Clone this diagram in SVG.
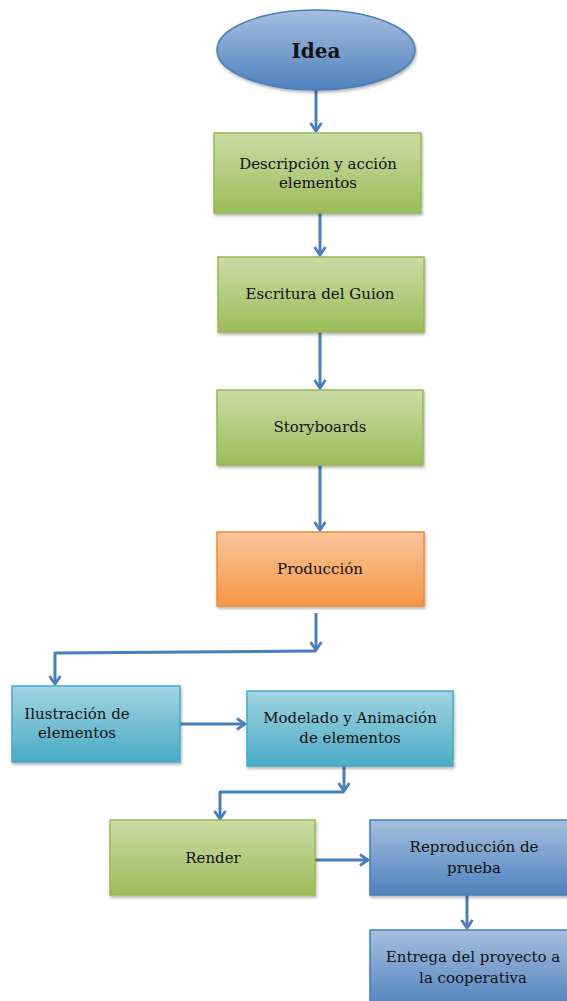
<svg xmlns="http://www.w3.org/2000/svg" width="567" height="1001" viewBox="0 0 567 1001">
<defs>
<linearGradient id="gGreen" x1="0" y1="0" x2="0" y2="1"><stop offset="0" stop-color="#c9dca5"/><stop offset="1" stop-color="#9cbd5a"/></linearGradient>
<linearGradient id="gOrange" x1="0" y1="0" x2="0" y2="1"><stop offset="0" stop-color="#f9c59a"/><stop offset="1" stop-color="#f79646"/></linearGradient>
<linearGradient id="gCyan" x1="0" y1="0" x2="0" y2="1"><stop offset="0" stop-color="#a2d4e2"/><stop offset="1" stop-color="#4aabc6"/></linearGradient>
<linearGradient id="gBlue" x1="0" y1="0" x2="0" y2="1"><stop offset="0" stop-color="#a5bfdf"/><stop offset="1" stop-color="#4f81bd"/></linearGradient>
<filter id="sh" x="-10%" y="-10%" width="125%" height="130%"><feDropShadow dx="1" dy="2" stdDeviation="1.5" flood-color="#000" flood-opacity="0.3"/></filter>
<marker id="ah" viewBox="0 0 14 14" refX="11" refY="7" markerWidth="14" markerHeight="14" markerUnits="userSpaceOnUse" orient="auto">
<path d="M3,1.5 L11,7 L3,12.5" fill="none" stroke="#4a7ebb" stroke-width="2.8"/>
</marker>
</defs>
<style>
.g{fill:url(#gGreen);stroke:#98b954;stroke-width:1.5;filter:url(#sh)}
.o{fill:url(#gOrange);stroke:#f08a35;stroke-width:1.5;filter:url(#sh)}
.c{fill:url(#gCyan);stroke:#46aac5;stroke-width:1.5;filter:url(#sh)}
.b{fill:url(#gBlue);stroke:#4a7ebb;stroke-width:1.5;filter:url(#sh)}
.t{font-family:"DejaVu Serif","Liberation Serif",serif;font-size:15px;fill:#111;text-anchor:middle}
.k{fill:none;stroke:#4a7ebb;stroke-width:3;stroke-linejoin:round}
</style>
<g id="connectors">
<path class="k" d="M316,90 L316,131" marker-end="url(#ah)"/>
<path class="k" d="M320,213 L320,255" marker-end="url(#ah)"/>
<path class="k" d="M320,332 L320,388" marker-end="url(#ah)"/>
<path class="k" d="M320,465 L320,530" marker-end="url(#ah)"/>
<path class="k" d="M316,613 L316,650" marker-end="url(#ah)"/>
<path class="k" d="M316,651 L55,653 L55,684" marker-end="url(#ah)"/>
<path class="k" d="M180,724 L245,724" marker-end="url(#ah)"/>
<path class="k" d="M344,766 L344,791" marker-end="url(#ah)"/>
<path class="k" d="M344,792 L220,792 L220,819" marker-end="url(#ah)"/>
<path class="k" d="M315,860 L368,860" marker-end="url(#ah)"/>
<path class="k" d="M467,895 L467,928" marker-end="url(#ah)"/>
</g>
<g id="idea">
<ellipse cx="316" cy="50" rx="99" ry="40" fill="url(#gBlue)" stroke="#4a7ebb" stroke-width="1.5" filter="url(#sh)"/>
<text x="316" y="58" style="font-family:'DejaVu Serif','Liberation Serif',serif;font-size:20px;font-weight:bold;fill:#111;text-anchor:middle">Idea</text>
</g>
<g id="descripcion">
<rect class="g" x="214" y="133" width="207" height="80"/>
<text class="t" x="318" y="169">Descripción y acción</text>
<text class="t" x="318" y="188">elementos</text>
</g>
<g id="escritura">
<rect class="g" x="218" y="257" width="206" height="75"/>
<text class="t" x="320" y="299">Escritura del Guion</text>
</g>
<g id="storyboards">
<rect class="g" x="217" y="390" width="206" height="75"/>
<text class="t" x="320" y="432">Storyboards</text>
</g>
<g id="produccion">
<rect class="o" x="217" y="532" width="207" height="74"/>
<text class="t" x="320" y="574">Producción</text>
</g>
<g id="ilustracion">
<rect class="c" x="12" y="686" width="168" height="76"/>
<text class="t" x="77" y="719">Ilustración de</text>
<text class="t" x="77" y="738">elementos</text>
</g>
<g id="modelado">
<rect class="c" x="247" y="691" width="206" height="75"/>
<text class="t" x="350" y="723">Modelado y Animación</text>
<text class="t" x="350" y="743">de elementos</text>
</g>
<g id="render">
<rect class="g" x="110" y="820" width="205" height="75"/>
<text class="t" x="213" y="863">Render</text>
</g>
<g id="reproduccion">
<rect class="b" x="370" y="820" width="208" height="75"/>
<text class="t" x="474" y="852">Reproducción de</text>
<text class="t" x="474" y="873">prueba</text>
</g>
<g id="entrega">
<rect class="b" x="370" y="930" width="208" height="80"/>
<text class="t" x="473" y="962">Entrega del proyecto a</text>
<text class="t" x="473" y="983">la cooperativa</text>
</g>
</svg>
